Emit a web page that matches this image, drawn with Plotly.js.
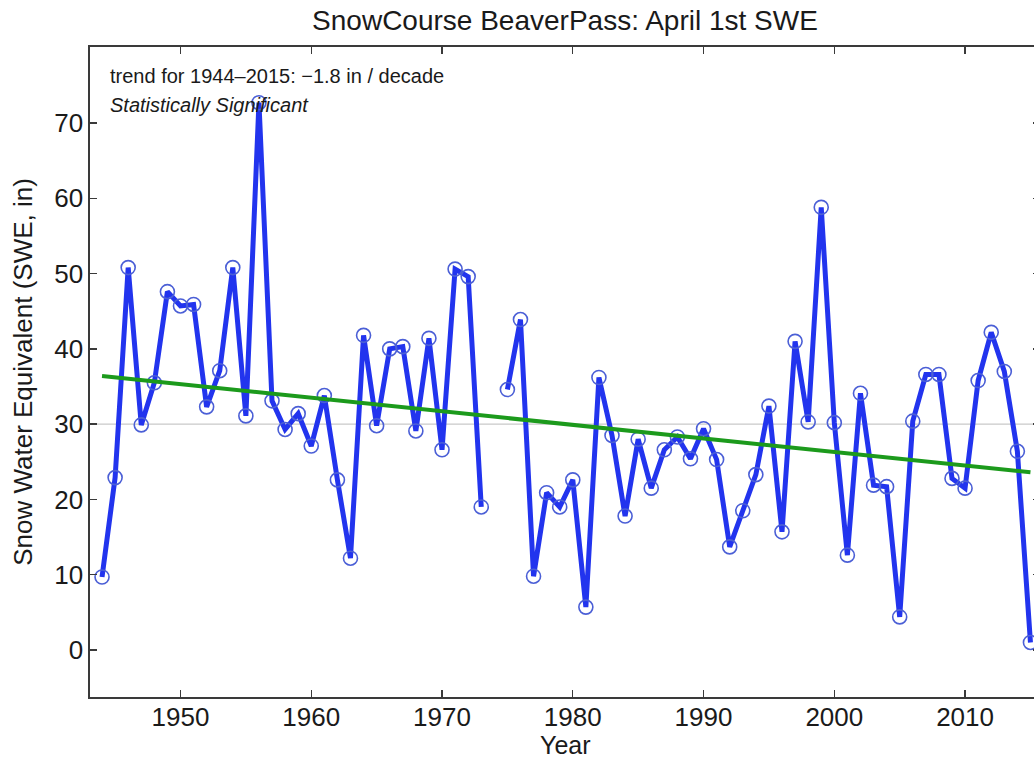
<!DOCTYPE html>
<html>
<head>
<meta charset="utf-8">
<script src="https://cdn.plot.ly/plotly-3.0.1.min.js"></script>
<style>
  html, body { margin: 0; padding: 0; background: #fff; overflow: hidden; }
  #chart { width: 1046px; height: 759px; }
</style>
</head>
<body>
<div id="chart"></div>
<script>
// April 1st snow water equivalent at the Beaver Pass snow course (inches)
const years = [
  1944, 1945, 1946, 1947, 1948, 1949, 1950, 1951, 1952, 1953,
  1954, 1955, 1956, 1957, 1958, 1959, 1960, 1961, 1962, 1963,
  1964, 1965, 1966, 1967, 1968, 1969, 1970, 1971, 1972, 1973,
  1974, 1975, 1976, 1977, 1978, 1979, 1980, 1981, 1982, 1983,
  1984, 1985, 1986, 1987, 1988, 1989, 1990, 1991, 1992, 1993,
  1994, 1995, 1996, 1997, 1998, 1999, 2000, 2001, 2002, 2003,
  2004, 2005, 2006, 2007, 2008, 2009, 2010, 2011, 2012, 2013,
  2014, 2015
];
const swe = [
  9.7, 22.9, 50.8, 29.9, 35.5, 47.6, 45.7, 45.9, 32.3, 37.1,
  50.8, 31.1, 72.7, 33.1, 29.3, 31.4, 27.1, 33.8, 22.6, 12.2,
  41.8, 29.8, 40.0, 40.3, 29.1, 41.4, 26.6, 50.6, 49.6, 19.0,
  null, 34.6, 43.9, 9.8, 20.9, 19.0, 22.6, 5.7, 36.2, 28.5,
  17.8, 28.0, 21.5, 26.6, 28.3, 25.4, 29.4, 25.3, 13.7, 18.5,
  23.3, 32.4, 15.7, 41.0, 30.3, 58.8, 30.2, 12.6, 34.1, 21.9,
  21.7, 4.4, 30.4, 36.6, 36.6, 22.8, 21.5, 35.8, 42.2, 37.0,
  26.4, 1.0
];

// Linear trend over the record: -1.8 in / decade
const trendYears = [1944, 2015];
const trendValues = [36.4, 23.6];

// Reference level drawn as a thin grey line
const referenceLevel = 30;

const xTicks = [1950, 1960, 1970, 1980, 1990, 2000, 2010];
const yTicks = [0, 10, 20, 30, 40, 50, 60, 70];

const titleText = 'SnowCourse BeaverPass: April 1st SWE';
const xTitleText = 'Year';
const yTitleText = 'Snow Water Equivalent (SWE, in)';
const trendText = 'trend for 1944\u20132015: \u22121.8 in / decade';
const significanceText = 'Statistically Significant';

const font = 'Liberation Sans, Arial, Helvetica, sans-serif';
const ink = '#1a1a1a';
const frame = '#3a3a3a';

const traces = [
  {
    x: years,
    y: swe,
    type: 'scatter',
    mode: 'lines+markers',
    connectgaps: false,
    line: { color: '#2234ee', width: 5 },
    marker: {
      symbol: 'circle-open',
      size: 14,
      color: '#4b5fd6',
      line: { width: 1.6, color: '#4b5fd6' }
    },
    cliponaxis: true,
    showlegend: false,
    hoverinfo: 'x+y'
  },
  {
    x: trendYears,
    y: trendValues,
    type: 'scatter',
    mode: 'lines',
    line: { color: '#1c9a1c', width: 4 },
    showlegend: false,
    hoverinfo: 'skip'
  }
];

const axisCommon = {
  showgrid: false,
  zeroline: false,
  showline: true,
  mirror: 'ticks',
  linecolor: frame,
  linewidth: 1.6,
  ticks: 'inside',
  ticklen: 7,
  tickwidth: 1.4,
  tickcolor: frame,
  tickfont: { family: font, size: 26, color: ink },
  automargin: false
};

const layout = {
  width: 1046,
  height: 759,
  margin: { l: 90, r: 6, t: 47, b: 62 },
  paper_bgcolor: '#ffffff',
  plot_bgcolor: '#ffffff',
  font: { family: font, color: ink },
  title: {
    text: titleText,
    font: { family: font, size: 28, color: ink },
    x: 0.5,
    xref: 'paper',
    xanchor: 'center',
    y: 0.973,
    yanchor: 'middle'
  },
  xaxis: Object.assign({}, axisCommon, {
    range: [1943.08, 2015.73],
    tickvals: xTicks,
    ticktext: xTicks.map(String),
    ticklabelstandoff: -4
  }),
  yaxis: Object.assign({}, axisCommon, {
    range: [-6.24, 80.1],
    tickvals: yTicks,
    ticktext: yTicks.map(String),
    title: {
      text: yTitleText,
      font: { family: font, size: 26, color: ink },
      standoff: 14
    }
  }),
  shapes: [
    {
      type: 'line',
      xref: 'paper', x0: 0, x1: 1,
      yref: 'y', y0: referenceLevel, y1: referenceLevel,
      line: { color: '#c9c9c9', width: 1.2 },
      layer: 'below'
    }
  ],
  annotations: [
    {
      // x-axis title, set tight under the year labels
      text: xTitleText,
      xref: 'paper', yref: 'paper',
      x: 0.5, y: -0.0738,
      xanchor: 'center', yanchor: 'middle',
      showarrow: false,
      font: { family: font, size: 25, color: ink }
    },
    {
      text: trendText,
      xref: 'paper', yref: 'paper',
      x: 0.019, y: 0.955,
      xanchor: 'left', yanchor: 'middle',
      showarrow: false,
      font: { family: font, size: 20, color: ink }
    },
    {
      text: '<i>' + significanceText + '</i>',
      xref: 'paper', yref: 'paper',
      x: 0.019, y: 0.91,
      xanchor: 'left', yanchor: 'middle',
      showarrow: false,
      font: { family: font, size: 20, color: ink }
    }
  ]
};

Plotly.newPlot('chart', traces, layout, { displayModeBar: false, staticPlot: true });
</script>
</body>
</html>
